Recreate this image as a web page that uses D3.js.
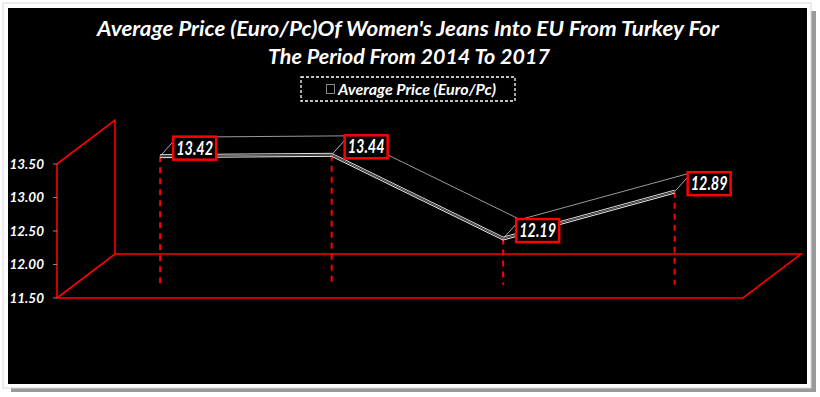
<!DOCTYPE html>
<html>
<head>
<meta charset="utf-8">
<script src="https://cdn.jsdelivr.net/npm/d3@7"></script>
<style>
  body { margin: 0; background: #fff; }
  svg { display: block; }
  text { font-family: Lato, "Open Sans", sans-serif; font-weight: bold; font-style: italic; fill: #fff; }
</style>
</head>
<body>
<div id="chart"></div>
<script>
var years = ['2014', '2015', '2016', '2017'];
var prices = [13.42, 13.44, 12.19, 12.89];
var tickValues = [11.5, 12, 12.5, 13, 13.5];
var titleLines = ["Average Price (Euro/Pc)Of Women's Jeans Into EU From Turkey For", 'The Period From 2014 To 2017'];
var seriesName = 'Average Price (Euro/Pc)';

var W = 820, H = 397;
var svg = d3.select('#chart').append('svg').attr('width', W).attr('height', H);

// frame + shadow
svg.append('rect').attr('x', 11).attr('y', 11).attr('width', 805).attr('height', 381).attr('fill', '#9a9a9a');
svg.append('rect').attr('x', 3).attr('y', 3).attr('width', 808).attr('height', 385).attr('fill', '#fff').attr('stroke', '#d8d8d8');
svg.append('rect').attr('x', 8).attr('y', 8).attr('width', 799).attr('height', 376).attr('fill', '#000');

// plot geometry (front plane + depth)
var left = 57, right = 743;
var depth = { x: 58, y: -44 };
var ribbonDepth = 0.3;
var ribbonBack = { x: 17, y: -19 };

var xScale = d3.scaleBand().domain(years).range([left, right]);
var yScale = d3.scaleLinear().domain([11.5, 13.5]).range([298, 164]);

var fx = function (d, i) { return xScale(years[i]) + xScale.bandwidth() / 2 + depth.x * ribbonDepth; };
var fy = function (d) { return yScale(d) + depth.y * ribbonDepth; };

var red = '#ff0000';
var walls = svg.append('g').attr('fill', 'none').attr('stroke', red).attr('stroke-width', 1.6);
var y0 = yScale(11.5), yTop = yScale(13.5);
walls.append('path').attr('d', 'M' + left + ',' + yTop + 'V' + y0 + 'H' + right + 'l' + depth.x + ',' + depth.y +
  'H' + (left + depth.x) + 'L' + left + ',' + y0);
walls.append('path').attr('d', 'M' + left + ',' + yTop + 'l' + depth.x + ',' + depth.y + 'V' + (y0 + depth.y));

// y axis ticks and labels
var yAxis = svg.append('g');
yAxis.selectAll('line').data(tickValues).enter().append('line')
  .attr('x1', left - 4).attr('x2', left).attr('y1', yScale).attr('y2', yScale)
  .attr('stroke', '#888').attr('stroke-width', 1);
yAxis.selectAll('text').data(tickValues).enter().append('text')
  .attr('x', 44).attr('y', yScale).attr('dy', '0.35em').attr('text-anchor', 'end')
  .style('font-size', '13.5px').text(function (d) { return d.toFixed(2); });

// drop lines
svg.append('g').selectAll('line').data(prices).enter().append('line')
  .attr('x1', fx).attr('x2', fx)
  .attr('y1', fy).attr('y2', y0 + depth.y * ribbonDepth)
  .attr('stroke', red).attr('stroke-width', 2).attr('stroke-dasharray', '6,5');

// ribbon
var front = d3.line().x(fx).y(fy);
var back = d3.line().x(function (d, i) { return fx(d, i) + ribbonBack.x; }).y(function (d) { return fy(d) + ribbonBack.y; });
var ribbon = svg.append('g').attr('fill', 'none');
ribbon.append('path').attr('d', back(prices)).attr('stroke', '#9a9a9a').attr('stroke-width', 1);
ribbon.selectAll('line').data(prices).enter().append('line')
  .attr('x1', fx).attr('y1', fy)
  .attr('x2', function (d, i) { return fx(d, i) + ribbonBack.x; })
  .attr('y2', function (d) { return fy(d) + ribbonBack.y; })
  .attr('stroke', '#b0b0b0').attr('stroke-width', 1);
[[-1.5, '#ddd'], [0, '#777'], [1.5, '#eee']].forEach(function (o) {
  ribbon.append('path').attr('d', front(prices)).attr('transform', 'translate(0,' + o[0] + ')')
    .attr('stroke', o[1]).attr('stroke-width', 1);
});

// data labels
var labels = svg.append('g').selectAll('g').data(prices).enter().append('g')
  .attr('transform', function (d, i) { return 'translate(' + (fx(d, i) + 13) + ',' + (fy(d) - 8) + ')'; });
labels.append('rect').attr('x', 0).attr('y', -11.5).attr('width', 43).attr('height', 23)
  .attr('fill', '#000').attr('stroke', red).attr('stroke-width', 2.5);
labels.append('text').attr('x', 21.5).attr('y', 0).attr('dy', '0.36em').attr('text-anchor', 'middle')
  .style('font-size', '18px').attr('textLength', 37).attr('lengthAdjust', 'spacingAndGlyphs')
  .text(function (d) { return d.toFixed(2); });

// title
svg.append('text').attr('x', 408).attr('y', 36).attr('text-anchor', 'middle').style('font-size', '21px')
  .attr('textLength', 622).attr('lengthAdjust', 'spacingAndGlyphs').text(titleLines[0]);
svg.append('text').attr('x', 409).attr('y', 64).attr('text-anchor', 'middle').style('font-size', '21px')
  .attr('textLength', 282).attr('lengthAdjust', 'spacingAndGlyphs').text(titleLines[1]);

// legend
var legend = svg.append('g');
legend.append('rect').attr('x', 301).attr('y', 77).attr('width', 214).attr('height', 24)
  .attr('fill', 'none').attr('stroke', '#fff').attr('stroke-width', 1.3).attr('stroke-dasharray', '3,2');
legend.append('rect').attr('x', 326.5).attr('y', 84.5).attr('width', 8).attr('height', 9)
  .attr('fill', 'none').attr('stroke', '#888');
legend.append('text').attr('x', 338).attr('y', 89).attr('dy', '0.35em').style('font-size', '16px')
  .attr('textLength', 158).attr('lengthAdjust', 'spacingAndGlyphs').text(seriesName);
</script>
</body>
</html>
